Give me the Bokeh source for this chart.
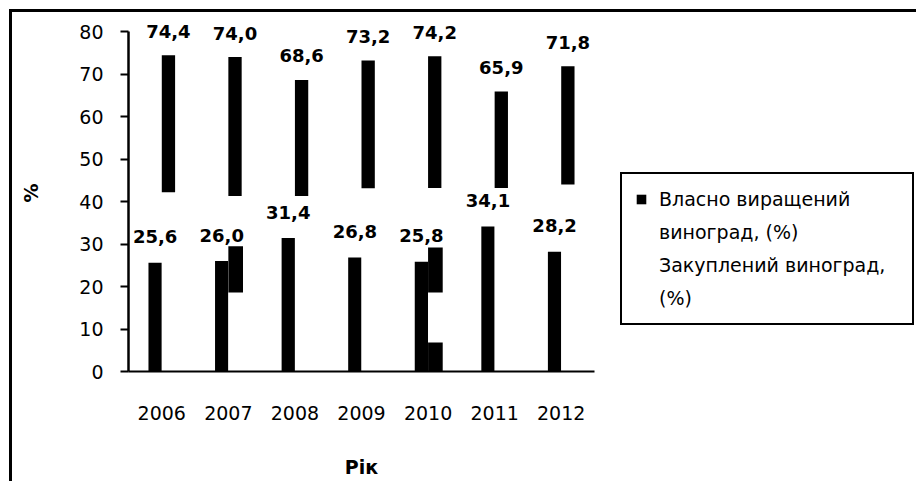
from bokeh.plotting import figure
from bokeh.models import Legend, LegendItem, ColumnDataSource, SingleIntervalTicker
from bokeh.transform import dodge
from bokeh.core.properties import value
from bokeh.embed import file_html
from bokeh.resources import INLINE

# ---- data ----
years = ["2006", "2007", "2008", "2009", "2010", "2011", "2012"]
own_grown = [25.6, 26.0, 31.4, 26.8, 25.8, 34.1, 28.2]          # Власно виращений виноград, %
purchased = [74.4, 74.0, 68.6, 73.2, 74.2, 65.9, 71.8]          # Закуплений виноград, %
# lower edge of the black-rendered part of the purchased bars (pattern fill rendered partially)
purchased_black_from = [42.2, 41.3, 41.3, 43.1, 43.2, 43.2, 44.0]
# stray black fragments of the pattern fill
frag_years = ["2007", "2010", "2010"]
frag_bottom = [18.6, 18.6, 0.0]
frag_top = [29.5, 29.2, 6.8]

legend_lines = ["Власно виращений", "виноград, (%)", "Закуплений виноград,", "(%)"]

FONT = "DejaVu Sans"

src = ColumnDataSource(dict(
    years=years,
    own=own_grown,
    bought=purchased,
    bought_from=purchased_black_from,
    own_lbl=[f"{v:.1f}".replace(".", ",") for v in own_grown],
    bought_lbl=[f"{v:.1f}".replace(".", ",") for v in purchased],
))
frag = ColumnDataSource(dict(years=frag_years, bottom=frag_bottom, top=frag_top))

p = figure(
    x_range=years, y_range=(0, 84),
    frame_width=466, frame_height=357,
    output_backend="svg", toolbar_location=None,
    min_border_left=116, min_border_top=2, min_border_bottom=110, min_border_right=316,
)
p.styles = {"border-left": "3px solid black", "border-top": "3px solid black",
            "margin-left": "9px", "margin-top": "9px"}
p.outline_line_color = None
p.xgrid.grid_line_color = None
p.ygrid.grid_line_color = None
p.x_range.range_padding = 0
p.background_fill_color = "white"
p.border_fill_color = "white"

r_own = p.vbar(x=dodge("years", -0.1, range=p.x_range), top="own", bottom=0,
               width=0.2, source=src, fill_color="black", line_color=None)
r_bought = p.vbar(x=dodge("years", 0.1, range=p.x_range), top="bought", bottom=0,
                  width=0.2, source=src, fill_color="white", line_color=None)
p.vbar(x=dodge("years", 0.1, range=p.x_range), top="bought", bottom="bought_from",
       width=0.2, source=src, fill_color="black", line_color=None)
p.vbar(x=dodge("years", 0.11, range=p.x_range), top="top", bottom="bottom",
       width=0.22, source=frag, fill_color="black", line_color=None)

p.text(x=dodge("years", -0.1, range=p.x_range), y="own", text="own_lbl", source=src,
       text_align="center", text_baseline="middle", y_offset=-26,
       text_font=value(FONT), text_font_style="bold", text_font_size="18px", text_color="black")
p.text(x=dodge("years", 0.1, range=p.x_range), y="bought", text="bought_lbl", source=src,
       text_align="center", text_baseline="middle", y_offset=-24,
       text_font=value(FONT), text_font_style="bold", text_font_size="18px", text_color="black")

# axes
yax = p.yaxis[0]
yax.ticker = SingleIntervalTicker(interval=10)
yax.bounds = (0, 80)
yax.axis_line_width = 2.5
yax.axis_line_color = "black"
yax.major_tick_line_width = 2
yax.major_tick_line_color = "black"
yax.major_tick_out = 8
yax.major_tick_in = 0
yax.minor_tick_line_color = None
yax.major_label_text_font = FONT
yax.major_label_text_font_size = "19px"
yax.major_label_text_color = "black"
yax.major_label_standoff = 17
yax.axis_label = "%"
yax.axis_label_text_font = FONT
yax.axis_label_text_font_style = "bold"
yax.axis_label_text_font_size = "19px"
yax.axis_label_text_color = "black"
yax.axis_label_standoff = 34

xax = p.xaxis[0]
xax.axis_line_width = 2
xax.axis_line_color = "black"
xax.major_tick_line_color = None
xax.minor_tick_line_color = None
xax.major_label_text_font = FONT
xax.major_label_text_font_size = "19px"
xax.major_label_text_color = "black"
xax.major_label_standoff = 28
xax.axis_label = "Рік"
xax.axis_label_text_font = FONT
xax.axis_label_text_font_style = "bold"
xax.axis_label_text_font_size = "19px"
xax.axis_label_text_color = "black"
xax.axis_label_standoff = 33

legend = Legend(items=[
    LegendItem(label=legend_lines[0], renderers=[r_own]),
    LegendItem(label=legend_lines[1], renderers=[r_bought]),
    LegendItem(label=legend_lines[2], renderers=[r_bought]),
    LegendItem(label=legend_lines[3], renderers=[r_bought]),
])
legend.location = (26, 46)
legend.margin = 0
legend.padding = 13
legend.spacing = 9
legend.label_height = 24
legend.label_width = 240
legend.border_line_color = "black"
legend.border_line_alpha = 1.0
legend.border_line_width = 2
legend.background_fill_color = "white"
legend.background_fill_alpha = 1.0
legend.label_text_font = FONT
legend.label_text_font_size = "19px"
legend.label_text_color = "black"
legend.glyph_width = 12
legend.glyph_height = 12
legend.label_standoff = 12
p.add_layout(legend, "right")

open("out.html", "w").write(file_html(p, INLINE))
